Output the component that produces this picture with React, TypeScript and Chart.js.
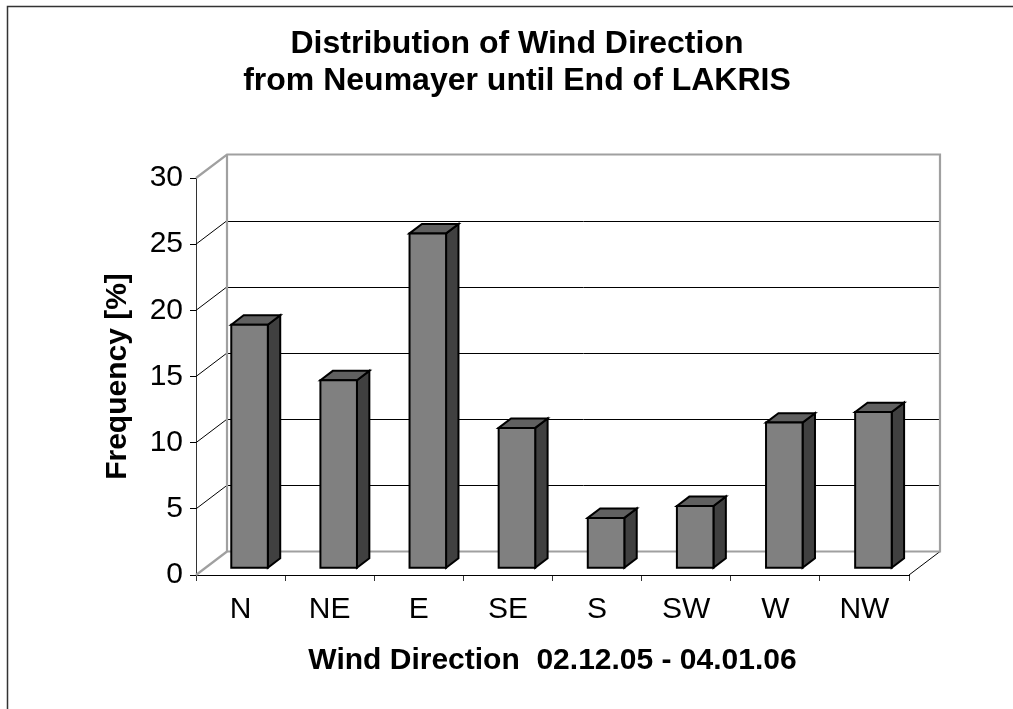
import React, { useEffect, useRef } from 'react';
import { Chart, registerables } from 'chart.js';

Chart.register(...registerables);

const categories = ['N', 'NE', 'E', 'SE', 'S', 'SW', 'W', 'NW'];
const frequency = [18.4, 14.2, 25.3, 10.6, 3.8, 4.7, 11.0, 11.8];
const yTicks = [0, 5, 10, 15, 20, 25, 30];
const titleLines = ['Distribution of Wind Direction', 'from Neumayer until End of LAKRIS'];
const xTitle = 'Wind Direction  02.12.05 - 04.01.06';
const yTitle = 'Frequency [%]';

const FONT = "'Liberation Sans', Arial, Helvetica, sans-serif";
const DX = 31;
const DY = -23.5;
const BAR_FRONT = 0.29;
const BAR_BACK = 0.69;
const WALL = '#a0a0a0';

const framePlugin = {
  id: 'frame',
  beforeDraw(chart: any) {
    const ctx = chart.ctx;
    ctx.save();
    ctx.strokeStyle = '#333333';
    ctx.lineWidth = 1.5;
    ctx.strokeRect(7.5, 6.5, 3000, 3000);
    ctx.restore();
  },
};

const wallsPlugin = {
  id: 'walls3d',
  beforeDatasetsDraw(chart: any) {
    const { ctx, chartArea } = chart;
    const y = chart.scales.y;
    const L = chartArea.left;
    const R = chartArea.right;
    const T = chartArea.top;
    const B = chartArea.bottom;
    ctx.save();
    // gridlines on back wall + left wall diagonals
    y.ticks.forEach((t: any) => {
      const v = t.value;
      const py = y.getPixelForValue(v);
      const edge = v === yTicks[0] || v === yTicks[yTicks.length - 1];
      if (edge) return;
      ctx.strokeStyle = '#000000';
      ctx.lineWidth = 1;
      const by = Math.round(py + DY) + 0.5;
      ctx.beginPath();
      ctx.moveTo(L + DX, by);
      ctx.lineTo(R + DX, by);
      ctx.stroke();
      ctx.beginPath();
      ctx.moveTo(L, py);
      ctx.lineTo(L + DX, py + DY);
      ctx.stroke();
    });
    // right floor diagonal
    ctx.strokeStyle = '#000000';
    ctx.lineWidth = 1;
    ctx.beginPath();
    ctx.moveTo(R, B);
    ctx.lineTo(R + DX, B + DY);
    ctx.stroke();
    // gray wall edges
    ctx.strokeStyle = WALL;
    ctx.lineWidth = 2.2;
    ctx.beginPath();
    ctx.moveTo(L, T);
    ctx.lineTo(L + DX, T + DY);
    ctx.lineTo(R + DX, T + DY);
    ctx.lineTo(R + DX, B + DY);
    ctx.lineTo(L + DX, B + DY);
    ctx.lineTo(L + DX, T + DY);
    ctx.stroke();
    ctx.beginPath();
    ctx.moveTo(L, B);
    ctx.lineTo(L + DX, B + DY);
    ctx.stroke();
    ctx.restore();
  },
};

const bars3dPlugin = {
  id: 'bars3d',
  afterDatasetsDraw(chart: any) {
    const { ctx } = chart;
    const meta = chart.getDatasetMeta(0);
    const ox = DX * BAR_FRONT;
    const oy = DY * BAR_FRONT;
    const dx = DX * (BAR_BACK - BAR_FRONT);
    const dy = DY * (BAR_BACK - BAR_FRONT);
    ctx.save();
    ctx.lineWidth = 2;
    ctx.strokeStyle = '#000000';
    ctx.lineJoin = 'miter';
    meta.data.forEach((el: any) => {
      const p = el.getProps(['x', 'y', 'base', 'width'], true);
      const l = p.x - p.width / 2 + ox;
      const r = p.x + p.width / 2 + ox;
      const t = p.y + oy;
      const b = p.base + oy;
      // side face
      ctx.fillStyle = '#404040';
      ctx.beginPath();
      ctx.moveTo(r, t);
      ctx.lineTo(r + dx, t + dy);
      ctx.lineTo(r + dx, b + dy);
      ctx.lineTo(r, b);
      ctx.closePath();
      ctx.fill();
      ctx.stroke();
      // top face
      ctx.fillStyle = '#606060';
      ctx.beginPath();
      ctx.moveTo(l, t);
      ctx.lineTo(l + dx, t + dy);
      ctx.lineTo(r + dx, t + dy);
      ctx.lineTo(r, t);
      ctx.closePath();
      ctx.fill();
      ctx.stroke();
      // front face
      ctx.fillStyle = '#808080';
      ctx.beginPath();
      ctx.rect(l, t, r - l, b - t);
      ctx.fill();
      ctx.stroke();
    });
    ctx.restore();
  },
};

export default function App() {
  const ref = useRef<HTMLCanvasElement | null>(null);

  useEffect(() => {
    if (!ref.current) return;
    const chart = new Chart(ref.current, {
      type: 'bar',
      data: {
        labels: categories,
        datasets: [
          {
            label: yTitle,
            data: frequency,
            backgroundColor: 'rgba(0,0,0,0)',
            borderWidth: 0,
            categoryPercentage: 1,
            barPercentage: 0.41,
          },
        ],
      },
      options: {
        responsive: false,
        animation: false,
        devicePixelRatio: 1,
        layout: { padding: { left: 125, right: 104, top: 0, bottom: 0 } },
        plugins: {
          legend: { display: false },
          tooltip: { enabled: false },
          title: {
            display: true,
            text: titleLines,
            color: '#000000',
            font: { family: FONT, size: 32, weight: 'bold', lineHeight: 1.15625 },
            padding: { top: 26, bottom: 78 },
          },
        },
        scales: {
          x: {
            afterFit: (s: any) => {
              s.height = 134;
            },
            grid: {
              drawOnChartArea: false,
              drawTicks: true,
              tickLength: 6,
              tickColor: '#333333',
              offset: true,
            },
            border: { display: true, color: '#000000', width: 1 },
            ticks: {
              color: '#000000',
              font: { family: FONT, size: 30, lineHeight: 1.2 },
              padding: 11,
              maxRotation: 0,
              autoSkip: false,
            },
            title: {
              display: true,
              text: xTitle,
              color: '#000000',
              font: { family: FONT, size: 30, weight: 'bold', lineHeight: 1.2 },
              padding: { top: 0, bottom: 30 },
            },
          },
          y: {
            min: yTicks[0],
            max: yTicks[yTicks.length - 1],
            afterFit: (s: any) => {
              s.width = 71;
            },
            ticks: {
              stepSize: yTicks[1] - yTicks[0],
              color: '#000000',
              font: { family: FONT, size: 30, lineHeight: 1.2 },
              padding: 7,
            },
            grid: {
              drawOnChartArea: false,
              drawTicks: true,
              tickLength: 6,
              tickColor: '#000000',
            },
            border: { display: true, color: '#333333', width: 1 },
            title: {
              display: true,
              text: yTitle,
              color: '#000000',
              font: { family: FONT, size: 30, weight: 'bold', lineHeight: 1.2 },
              padding: { top: -25, bottom: 0 },
            },
          },
        },
      },
      plugins: [framePlugin, wallsPlugin, bars3dPlugin],
    } as any);
    return () => chart.destroy();
  }, []);

  return (
    <div style={{ position: 'fixed', left: 0, top: 0, width: 1013, height: 709, background: '#ffffff' }}>
      <canvas ref={ref} width={1013} height={709} style={{ display: 'block', width: 1013, height: 709 }} />
    </div>
  );
}
